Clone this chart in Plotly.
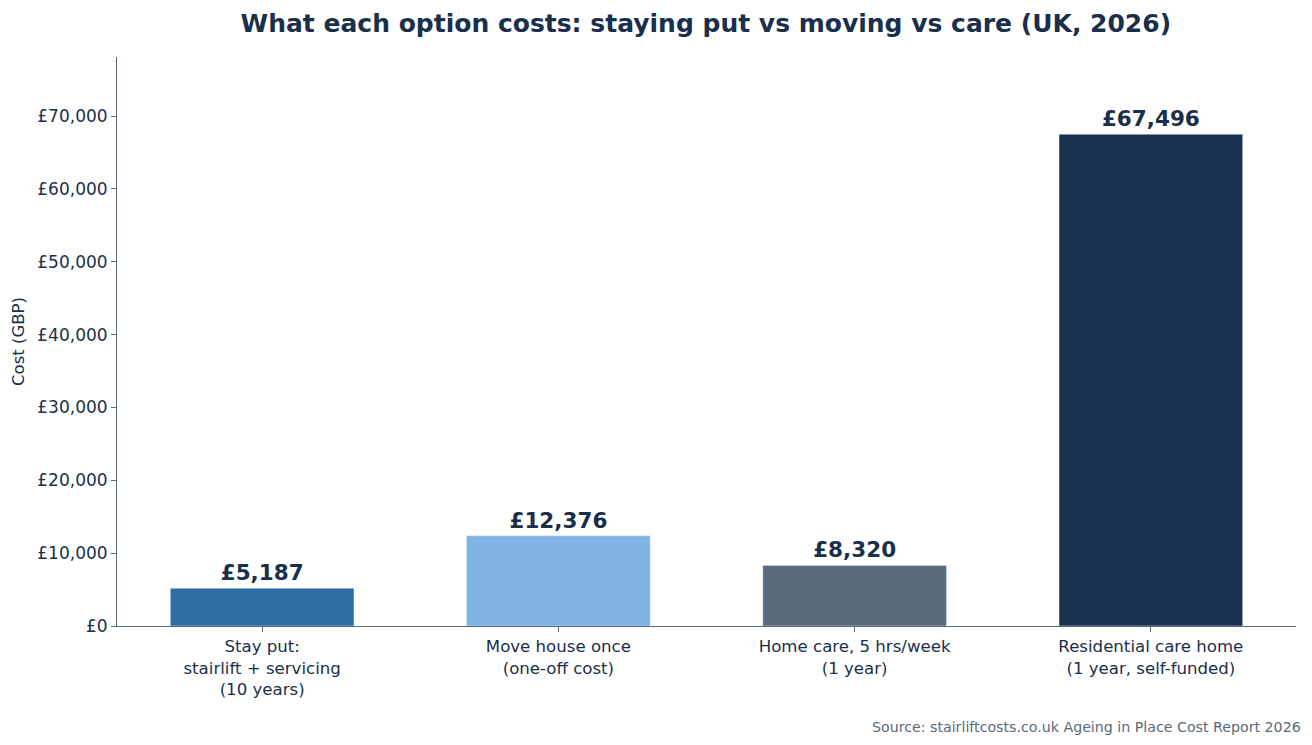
import plotly.graph_objects as go

categories = ["Stay put:<br>stairlift + servicing<br>(10 years)",
              "Move house once<br>(one-off cost)",
              "Home care, 5 hrs/week<br>(1 year)",
              "Residential care home<br>(1 year, self-funded)"]
values = [5187, 12376, 8320, 67496]
colors = ["#2e6ca4", "#80b2e4", "#5a6a7b", "#19324f"]
tick_vals = [0, 10000, 20000, 30000, 40000, 50000, 60000, 70000]
tick_text = ["£0", "£10,000", "£20,000", "£30,000", "£40,000", "£50,000", "£60,000", "£70,000"]
labels = ["£{:,}".format(v) for v in values]

navy = "#1a2f4b"
axis_col = "#5a6a7b"
font = "DejaVu Sans"

fig = go.Figure(go.Bar(
    x=list(range(len(categories))), y=values, marker_color=colors, width=0.62,
    text=labels, textposition="outside", cliponaxis=False,
    textfont=dict(family=font, size=21.5, color=navy),
    texttemplate="<b>%{text}</b>",
))

fig.update_layout(
    width=1312, height=745,
    margin=dict(l=117, r=16, t=57, b=119),
    plot_bgcolor="white", paper_bgcolor="white",
    showlegend=False,
    font=dict(family=font, color=navy, size=16.5),
    title=dict(text="<b>What each option costs: staying put vs moving vs care (UK, 2026)</b>",
               x=0.538, xanchor="center", y=0.969, yanchor="middle",
               font=dict(family=font, size=25, color=navy)),
    xaxis=dict(range=[-0.49, 3.49], tickvals=list(range(len(categories))), ticktext=categories,
               showline=True, linecolor=axis_col, linewidth=1, ticks="outside", tickcolor=axis_col,
               ticklen=5, showgrid=False, zeroline=False, tickfont=dict(size=16.6, color=navy)),
    yaxis=dict(range=[0, 78100], tickvals=tick_vals, ticktext=tick_text,
               showline=True, linecolor=axis_col, linewidth=1, ticks="outside", tickcolor=axis_col,
               ticklen=5, showgrid=False, zeroline=False, tickfont=dict(size=17, color=navy),
               title=dict(text="Cost (GBP)", font=dict(size=16.5, color=navy), standoff=8)),
    annotations=[dict(text="Source: stairliftcosts.co.uk Ageing in Place Cost Report 2026",
                      xref="paper", yref="paper", x=1.006, y=-0.1775, xanchor="right", yanchor="middle",
                      showarrow=False, font=dict(family=font, size=14.2, color="#5a6a7b"))],
)

fig.write_html("out.html")
